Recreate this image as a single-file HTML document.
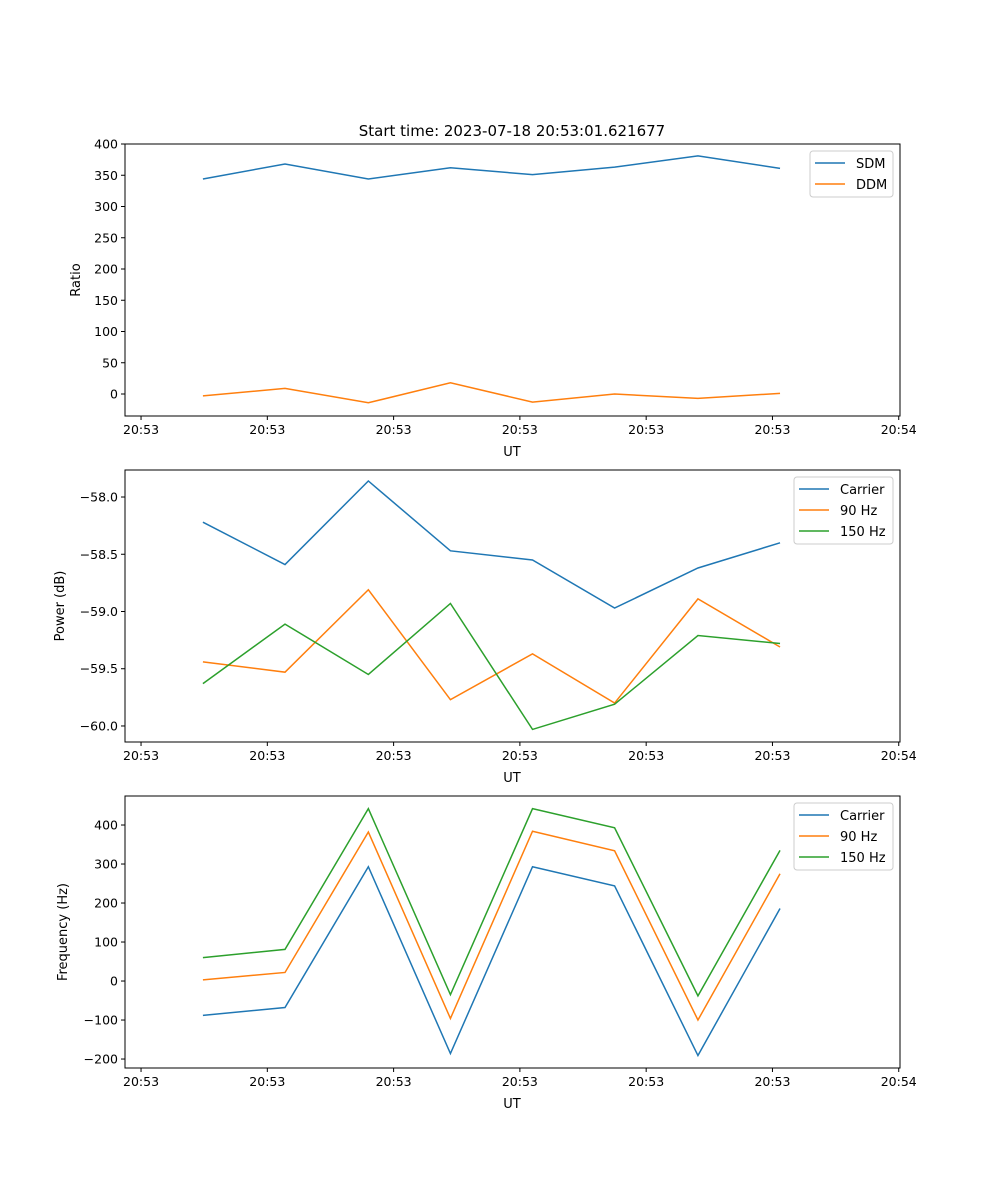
<!DOCTYPE html>
<html><head><meta charset="utf-8">
<style>
body{margin:0;background:#fff;}
svg{display:block;font-family:"DejaVu Sans","Liberation Sans",sans-serif;}
</style></head>
<body>
<svg id="fig" width="1000" height="1200" viewBox="0 0 1000 1200">
<text x="512" y="136" font-size="15" text-anchor="middle">Start time: 2023-07-18 20:53:01.621677</text>
</svg>
<script>
// shared x data (seconds after 20:53:00)
const times = [4.9, 11.4, 18.0, 24.5, 31.0, 37.5, 44.1, 50.6];
const xTickValues = [0, 10, 20, 30, 40, 50, 60];
const xTickLabels = ["20:53","20:53","20:53","20:53","20:53","20:53","20:54"];
// panel 1
const ratioSDM = [344, 368, 344, 362, 351, 363, 381, 361];
const ratioDDM = [-3, 9, -14, 18, -13, 0, -7, 1];
const ratioTicks = [0, 50, 100, 150, 200, 250, 300, 350, 400];
// panel 2
const powerCarrier = [-58.22, -58.59, -57.86, -58.47, -58.55, -58.97, -58.62, -58.40];
const power90 = [-59.44, -59.53, -58.81, -59.77, -59.37, -59.80, -58.89, -59.31];
const power150 = [-59.63, -59.11, -59.55, -58.93, -60.03, -59.81, -59.21, -59.28];
const powerTicks = [-60.0, -59.5, -59.0, -58.5, -58.0];
// panel 3
const freqCarrier = [-88, -68, 293, -186, 293, 244, -191, 186];
const freq90 = [3, 22, 382, -96, 384, 334, -100, 275];
const freq150 = [60, 81, 442, -35, 442, 393, -38, 335];
const freqTicks = [-200, -100, 0, 100, 200, 300, 400];

const NS = "http://www.w3.org/2000/svg";
const svg = document.getElementById('fig');
const C = {blue:"#1f77b4", orange:"#ff7f0e", green:"#2ca02c"};
const L = 125, R = 900;
const xmin = -1.27, xmax = 60.1;
function xs(t){ return L + (t - xmin) / (xmax - xmin) * (R - L); }
function mk(tag, attrs, parent){ const e = document.createElementNS(NS, tag); for (const k in attrs) e.setAttribute(k, attrs[k]); (parent||svg).appendChild(e); return e; }

function panel(cfg){
  const g = mk('g', {});
  
  
  const T = cfg.top, B = cfg.top + 272;
  const ys = v => B - (v - cfg.ymin) / (cfg.ymax - cfg.ymin) * (B - T);
  cfg.series.forEach(s => {
    const pts = times.map((t,i) => xs(t).toFixed(2) + ',' + ys(s.data[i]).toFixed(2)).join(' ');
    const pl = mk('polyline', {points: pts, fill: 'none', stroke: s.color, 'stroke-width': 1.5}, g);
    
    
  });
  const fr = mk('rect', {x: L, y: T, width: R - L, height: B - T, fill: 'none', stroke: '#000', 'stroke-width': 1}, g);
  
  
  xTickValues.forEach((v,i) => {
    const x = xs(v);
    mk('line', {x1: x, x2: x, y1: B, y2: B + 4, stroke: '#000'}, g);
    const tx = mk('text', {x: x, y: B + 18, 'font-size': 12.5, 'text-anchor': 'middle'}, g);
    tx.textContent = xTickLabels[i];
    
    
  });
  const xl = mk('text', {x: 512, y: B + 40, 'font-size': 13, 'text-anchor': 'middle'}, g);
  xl.textContent = 'UT';
  
  
  cfg.ticks.forEach(v => {
    const y = ys(v);
    mk('line', {x1: L - 4, x2: L, y1: y, y2: y, stroke: '#000'}, g);
    const tx = mk('text', {x: L - 7, y: y + 4.5, 'font-size': 12.5, 'text-anchor': 'end'}, g);
    tx.textContent = cfg.fmt(v);
    
    
  });
  const yl = mk('text', {x: cfg.ylx, y: (T + B) / 2, 'font-size': 13, 'text-anchor': 'middle', transform: `rotate(-90 ${cfg.ylx} ${(T+B)/2})`}, g);
  yl.textContent = cfg.ylabel;
  
  
  const lw = cfg.legendW, lx = 893 - lw, ly = T + 7;
  const lg = mk('g', {}, g);
  
  
  mk('rect', {x: lx, y: ly, width: lw, height: 4 + cfg.series.length * 21, rx: 3, fill: '#fff', 'fill-opacity': 0.8, stroke: '#ccc'}, lg);
  cfg.series.forEach((s,i) => {
    const yy = ly + 12 + i * 21;
    const le = mk('g', {}, lg);
    
    
    mk('line', {x1: lx + 5, x2: lx + 35, y1: yy, y2: yy, stroke: s.color, 'stroke-width': 1.5}, le);
    const t = mk('text', {x: lx + 46, y: yy + 5, 'font-size': 13}, le);
    t.textContent = s.label;
  });
}

panel({name:'ratio-panel', top:144, ymin:-35.2, ymax:400, ticks:ratioTicks, fmt:v=>String(v), ylabel:'Ratio', ylx:80, legendW:83,
  series:[{id:'sdm',label:'SDM',data:ratioSDM,color:C.blue},{id:'ddm',label:'DDM',data:ratioDDM,color:C.orange}]});
panel({name:'power-panel', top:470, ymin:-60.14, ymax:-57.764, ticks:powerTicks, fmt:v=>'\u2212'+Math.abs(v).toFixed(1), ylabel:'Power (dB)', ylx:64, legendW:99,
  series:[{id:'carrier',label:'Carrier',data:powerCarrier,color:C.blue},{id:'90hz',label:'90 Hz',data:power90,color:C.orange},{id:'150hz',label:'150 Hz',data:power150,color:C.green}]});
panel({name:'frequency-panel', top:796, ymin:-223, ymax:474.4, ticks:freqTicks, fmt:v=>v<0?'\u2212'+Math.abs(v):String(v), ylabel:'Frequency (Hz)', ylx:67, legendW:99,
  series:[{id:'carrier',label:'Carrier',data:freqCarrier,color:C.blue},{id:'90hz',label:'90 Hz',data:freq90,color:C.orange},{id:'150hz',label:'150 Hz',data:freq150,color:C.green}]});
</script>
</body></html>
